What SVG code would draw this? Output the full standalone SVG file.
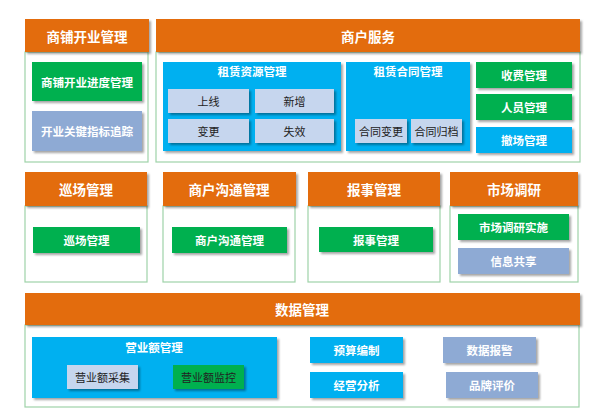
<svg xmlns="http://www.w3.org/2000/svg" width="600" height="412" viewBox="0 0 600 412">
<defs>
<filter id="sh" x="-10%" y="-20%" width="130%" height="150%">
<feDropShadow dx="2" dy="2" stdDeviation="1.2" flood-color="#000" flood-opacity="0.35"/>
</filter>
<style>
text{font-family:"Noto Sans CJK SC","Noto Sans CJK JP",sans-serif;text-anchor:middle;dominant-baseline:central}
.hd{fill:#E36C0A;filter:url(#sh)}
.ht{fill:#fff;font-size:13.5px;font-weight:bold}
.pn{fill:#fff;stroke:#9ED3A8;stroke-width:1.2}
.g{fill:#00B050;filter:url(#sh)}
.b{fill:#00B0F0;filter:url(#sh)}
.gb{fill:#8EAAD4;filter:url(#sh)}
.lb{fill:#C6D6EE;filter:url(#sh)}
.wt{fill:#fff;font-size:11.5px;font-weight:bold}
.dt{fill:#222;font-size:11px}
</style>
</defs>
<rect width="600" height="412" fill="#fff"/>

<g id="shop-open">
<rect class="pn" x="25" y="52" width="123" height="110"/>
<rect class="hd" x="25" y="19" width="124" height="33"/>
<text class="ht" x="87" y="35.5">商铺开业管理</text>
<rect class="g" x="32" y="62" width="110" height="39"/>
<text class="wt" x="87" y="81.5">商铺开业进度管理</text>
<rect class="gb" x="32" y="111" width="110" height="40"/>
<text class="wt" x="87" y="131">开业关键指标追踪</text>
</g>

<g id="merchant-service">
<rect class="pn" x="156" y="52" width="424" height="110"/>
<rect class="hd" x="156" y="19" width="424" height="33"/>
<text class="ht" x="368" y="35.5">商户服务</text>
<rect class="b" x="163" y="62" width="178" height="89"/>
<text class="wt" x="252" y="71">租赁资源管理</text>
<rect class="lb" x="168" y="89" width="81" height="24"/>
<text class="dt" x="208.5" y="101">上线</text>
<rect class="lb" x="255" y="89" width="79" height="24"/>
<text class="dt" x="294.5" y="101">新增</text>
<rect class="lb" x="168" y="119" width="81" height="24"/>
<text class="dt" x="208.5" y="131">变更</text>
<rect class="lb" x="255" y="119" width="79" height="24"/>
<text class="dt" x="294.5" y="131">失效</text>
<rect class="b" x="346" y="62" width="124" height="89"/>
<text class="wt" x="408" y="71">租赁合同管理</text>
<rect class="lb" x="355" y="119" width="52" height="24"/>
<text class="dt" x="381" y="131">合同变更</text>
<rect class="lb" x="411" y="119" width="51" height="24"/>
<text class="dt" x="436.5" y="131">合同归档</text>
<rect class="g" x="476" y="62" width="96" height="26"/>
<text class="wt" x="524" y="75">收费管理</text>
<rect class="g" x="476" y="94" width="96" height="26"/>
<text class="wt" x="524" y="107">人员管理</text>
<rect class="b" x="476" y="127" width="96" height="26"/>
<text class="wt" x="524" y="140">撤场管理</text>
</g>

<g id="patrol">
<rect class="pn" x="25" y="206" width="122" height="76"/>
<rect class="hd" x="25" y="172" width="122" height="34"/>
<text class="ht" x="86" y="189">巡场管理</text>
<rect class="g" x="33" y="227" width="107" height="26"/>
<text class="wt" x="86.5" y="240">巡场管理</text>
</g>

<g id="communication">
<rect class="pn" x="163" y="206" width="132" height="76"/>
<rect class="hd" x="163" y="172" width="133" height="34"/>
<text class="ht" x="229" y="189">商户沟通管理</text>
<rect class="g" x="172" y="227" width="115" height="26"/>
<text class="wt" x="229.5" y="240">商户沟通管理</text>
</g>

<g id="report">
<rect class="pn" x="308" y="206" width="132" height="76"/>
<rect class="hd" x="308" y="172" width="132" height="34"/>
<text class="ht" x="374" y="189">报事管理</text>
<rect class="g" x="319" y="227" width="114" height="25"/>
<text class="wt" x="376" y="239.5">报事管理</text>
</g>

<g id="research">
<rect class="pn" x="450" y="206" width="128" height="76"/>
<rect class="hd" x="450" y="172" width="128" height="34"/>
<text class="ht" x="514" y="189">市场调研</text>
<rect class="g" x="458" y="214" width="111" height="26"/>
<text class="wt" x="513.5" y="227">市场调研实施</text>
<rect class="gb" x="458" y="248" width="111" height="26"/>
<text class="wt" x="513.5" y="261">信息共享</text>
</g>

<g id="data">
<rect class="pn" x="25" y="325" width="554" height="82"/>
<rect class="hd" x="25" y="293" width="555" height="32"/>
<text class="ht" x="302" y="309">数据管理</text>
<rect class="b" x="32" y="337" width="245" height="61"/>
<text class="wt" x="154" y="346.5">营业额管理</text>
<rect class="lb" x="67" y="365" width="71" height="24"/>
<text class="dt" x="102.5" y="377">营业额采集</text>
<rect fill="#00B050" filter="url(#sh)" x="173" y="365" width="71" height="24"/>
<text class="dt" x="208.5" y="377">营业额监控</text>
<rect class="b" x="310" y="337" width="93" height="26"/>
<text class="wt" x="356.5" y="350">预算编制</text>
<rect class="b" x="310" y="372" width="93" height="26"/>
<text class="wt" x="356.5" y="385">经营分析</text>
<rect class="gb" x="443" y="337" width="93" height="26"/>
<text class="wt" x="489.5" y="350">数据报警</text>
<rect class="gb" x="446" y="372" width="92" height="26"/>
<text class="wt" x="492" y="385">品牌评价</text>
</g>

<g id="connectors"></g>
</svg>
